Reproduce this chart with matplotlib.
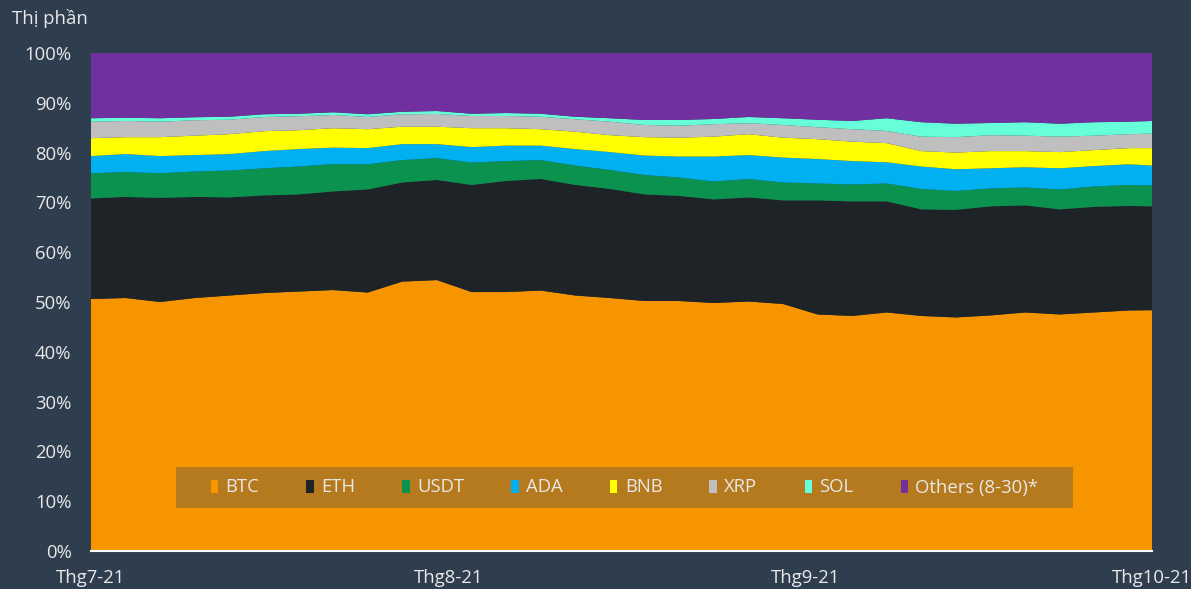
import pandas as pd
from matplotlib import pyplot as plt
from matplotlib.patches import Patch, Rectangle

# dates of the readings (every 3 days + last day)
dates = list(pd.date_range("2021-07-01", "2021-09-29", freq="3D")) + [pd.Timestamp("2021-10-01")]

# market share in %
btc = [50.6, 50.8, 50.0, 50.8, 51.3, 51.8, 52.1, 52.4, 51.9, 54.1, 54.4, 52.0, 52.0, 52.3, 51.3, 50.8,
       50.2, 50.2, 49.8, 50.1, 49.6, 47.5, 47.2, 47.9, 47.2, 46.9, 47.3, 47.9, 47.5, 47.9, 48.3, 48.35]
eth = [20.2, 20.3, 20.9, 20.3, 19.7, 19.6, 19.5, 19.8, 20.7, 19.9, 20.1, 21.5, 22.3, 22.4, 22.2, 21.9,
       21.4, 21.1, 20.8, 20.9, 20.8, 22.9, 23.0, 22.3, 21.4, 21.6, 21.9, 21.5, 21.1, 21.2, 21.0, 20.85]
usdt = [5.05, 5.0, 4.95, 5.1, 5.4, 5.45, 5.6, 5.5, 5.05, 4.5, 4.4, 4.5, 4.0, 3.8, 3.9, 3.8,
        3.9, 3.7, 3.6, 3.7, 3.6, 3.4, 3.4, 3.6, 4.1, 3.8, 3.6, 3.6, 4.0, 4.1, 4.2, 4.2]
ada = [3.45, 3.6, 3.45, 3.3, 3.3, 3.45, 3.5, 3.3, 3.25, 3.2, 2.8, 3.1, 3.1, 2.9, 3.3, 3.6,
       3.9, 4.2, 5.0, 4.8, 5.0, 4.9, 4.7, 4.25, 4.5, 4.35, 4.05, 4.05, 4.25, 4.1, 4.15, 4.0]
bnb = [3.6, 3.4, 3.8, 3.9, 4.0, 4.0, 3.8, 3.9, 3.8, 3.5, 3.5, 3.8, 3.5, 3.3, 3.5, 3.4,
       3.7, 3.8, 4.0, 4.2, 4.0, 4.0, 3.9, 3.85, 3.1, 3.35, 3.45, 3.25, 3.25, 3.2, 3.25, 3.5]
xrp = [3.3, 3.25, 3.1, 3.1, 2.9, 2.85, 2.8, 2.65, 2.45, 2.5, 2.55, 2.45, 2.45, 2.5, 2.5, 2.7,
       2.45, 2.4, 2.5, 2.2, 2.55, 2.4, 2.5, 2.45, 2.9, 3.1, 3.2, 3.1, 3.1, 2.9, 2.8, 2.9]
sol = [0.7, 0.65, 0.7, 0.6, 0.6, 0.55, 0.5, 0.55, 0.55, 0.5, 0.6, 0.45, 0.6, 0.6, 0.5, 0.7,
       1.0, 1.15, 1.05, 1.25, 1.35, 1.5, 1.65, 2.55, 2.9, 2.7, 2.45, 2.7, 2.6, 2.7, 2.5, 2.55]
others = [13.1, 13.0, 13.1, 12.9, 12.8, 12.3, 12.2, 11.9, 12.3, 11.8, 11.65, 12.2, 12.05, 12.2, 12.8, 13.1,
          13.45, 13.45, 13.25, 12.85, 13.1, 13.4, 13.65, 13.1, 13.9, 14.2, 14.05, 13.9, 14.2, 13.9, 13.8, 13.65]

names = ["BTC", "ETH", "USDT", "ADA", "BNB", "XRP", "SOL", "Others (8-30)*"]
colors = ["#f79500", "#1d2327", "#0c924f", "#00b0f0", "#ffff00", "#bfbfbf", "#66ffda", "#7030a0"]

tick_dates = [pd.Timestamp("2021-07-01"), pd.Timestamp("2021-08-01"),
              pd.Timestamp("2021-09-01"), pd.Timestamp("2021-10-01")]
tick_labels = ["Thg7-21", "Thg8-21", "Thg9-21", "Thg10-21"]

bg = "#2e3e4e"
txt = "#e8e8e8"
fs = 13.3
plt.rcParams['font.family'] = ['Open Sans', 'DejaVu Sans']

fig = plt.figure(figsize=(11.91, 5.89), dpi=100, facecolor=bg)
ax = fig.add_axes([91 / 1191, 1 - 551 / 589, 1061 / 1191, 498 / 589])
ax.set_facecolor(bg)

ax.stackplot(dates, btc, eth, usdt, ada, bnb, xrp, sol, others, colors=colors, linewidth=0)

ax.set_xlim(tick_dates[0], tick_dates[-1])
ax.set_ylim(0, 100)
ax.set_yticks(range(0, 101, 10))
ax.set_yticklabels([str(v) + "%" for v in range(0, 101, 10)])
ax.set_xticks(tick_dates)
ax.set_xticklabels(tick_labels)
ax.tick_params(axis='both', length=0, colors=txt, labelsize=fs)
ax.tick_params(axis='y', pad=14)
ax.tick_params(axis='x', pad=13)
for s in ["top", "right", "left"]:
    ax.spines[s].set_visible(False)
ax.spines["bottom"].set_color("#ffffff")
ax.spines["bottom"].set_linewidth(1.5)

fig.text(12 / 1191, 1 - 18 / 589, "Thị phần", color=txt, fontsize=fs, va='center', ha='left')

# legend box
x0, x1 = (176 - 91) / 1061, (1073 - 91) / 1061
y0, y1 = (551 - 508) / 498, (551 - 467) / 498
ax.add_patch(Rectangle((x0, y0), x1 - x0, y1 - y0, transform=ax.transAxes,
                       facecolor="#b57a1e", edgecolor="none", zorder=3))
handles = [Patch(facecolor=c, edgecolor="none") for c in colors]
leg = ax.legend(handles, names, loc='center', bbox_to_anchor=((x0 + x1) / 2, (y0 + y1) / 2),
                ncol=8, frameon=False, fontsize=fs, handlelength=0.4, handleheight=0.7,
                handletextpad=0.4, columnspacing=2.55, labelcolor=txt)
leg.set_zorder(4)

fig.savefig("out.png", dpi=100, facecolor=bg)
